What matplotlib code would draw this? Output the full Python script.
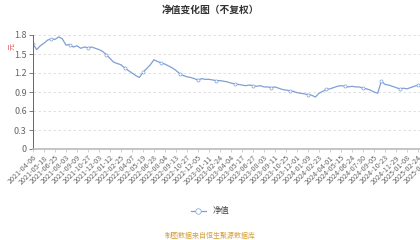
import numpy as np
import matplotlib
matplotlib.use('Agg')
import matplotlib.pyplot as plt

plt.rcParams['font.family'] = ['Noto Sans CJK SC', 'DejaVu Sans']

# tick labels along the category axis (one every 3 points)
date_labels = ['2021-04-06', '2021-05-18', '2021-06-25', '2021-08-03', '2021-09-09',
               '2021-10-27', '2021-12-03', '2022-01-12', '2022-02-25', '2022-04-07',
               '2022-05-19', '2022-06-28', '2022-08-04', '2022-09-13', '2022-10-27',
               '2022-12-05', '2023-01-11', '2023-02-24', '2023-04-04', '2023-05-17',
               '2023-06-27', '2023-08-03', '2023-09-11', '2023-10-25', '2023-12-01',
               '2024-01-09', '2024-02-23', '2024-04-01', '2024-05-15', '2024-06-24',
               '2024-07-30', '2024-09-05', '2024-10-23', '2024-11-29', '2025-01-08',
               '2025-02-24', '2025-04-03']

# net value
nav = [1.66, 1.57, 1.63, 1.67, 1.72, 1.74, 1.73, 1.77, 1.74, 1.64,
       1.65, 1.61, 1.63, 1.59, 1.61, 1.60, 1.61, 1.59, 1.57, 1.54,
       1.49, 1.43, 1.37, 1.35, 1.33, 1.28, 1.24, 1.20, 1.16, 1.13,
       1.21, 1.27, 1.33, 1.41, 1.38, 1.36, 1.34, 1.31, 1.28, 1.24,
       1.19, 1.16, 1.14, 1.13, 1.11, 1.09, 1.11, 1.10, 1.10, 1.09,
       1.08, 1.08, 1.07, 1.06, 1.04, 1.03, 1.02, 1.01, 1.00, 1.01,
       1.00, 0.99, 1.00, 0.98, 0.98, 0.97, 0.98, 0.96, 0.94, 0.93,
       0.92, 0.91, 0.89, 0.88, 0.87, 0.86, 0.85, 0.82, 0.88, 0.91,
       0.94, 0.95, 0.97, 0.99, 1.00, 0.99, 0.98, 0.99, 0.98, 0.98,
       0.96, 0.95, 0.93, 0.90, 0.88, 1.07, 1.02, 1.01, 0.99, 0.97,
       0.95, 0.96, 0.95, 0.97, 0.99, 1.01, 1.00, 1.01]

yticks = [0, 0.3, 0.6, 0.9, 1.2, 1.5, 1.8]
ytick_labels = ['0', '0.3', '0.6', '0.9', '1.2', '1.5', '1.8']

line_color = '#7f9fd5'
grey = '#666666'

fig = plt.figure(figsize=(4.2, 2.4), dpi=100)
# axes runs past the right edge of the picture, like the cropped original
ax = fig.add_axes([33 / 420, 1 - 149 / 240, 400 / 420, 114 / 240])

x = np.arange(len(nav)) / 3.0
ax.plot(x, nav, color=line_color, lw=0.9, marker='o', markersize=2.2,
        markerfacecolor='white', markeredgewidth=0.5, markevery=5, label='净值')

ax.set_ylim(0, 1.8)
ax.set_xlim(0, 400 / 11)
ax.set_yticks(yticks)
ax.set_yticklabels(ytick_labels, fontsize=6.5, color=grey)
ax.set_xticks(range(len(date_labels)))
ax.set_xticklabels(date_labels, rotation=45, ha='right', rotation_mode='anchor',
                   fontsize=5.2, color=grey)
ax.tick_params(axis='y', length=3, width=0.6, color=grey, pad=1.5)
ax.tick_params(axis='x', length=2, width=0.5, color='#bbbbbb', pad=1.5)

ax.grid(axis='y', color='#d9d9d9', linestyle=(0, (3, 3)), linewidth=0.6)
ax.set_axisbelow(True)
for s in ['top', 'right']:
    ax.spines[s].set_visible(False)
ax.spines['left'].set_color(grey)
ax.spines['left'].set_linewidth(0.7)
ax.spines['bottom'].set_color('#bbbbbb')
ax.spines['bottom'].set_linewidth(1.2)

fig.text(0.5, 1 - 10 / 240, '净值变化图（不复权）', ha='center', va='center',
         fontsize=7, fontweight='bold', color='#333333')
fig.text(13 / 420, 1 - 47 / 240, '元', ha='center', va='center', rotation=90,
         fontsize=5, color='#e06060')

leg = fig.legend(loc='center', bbox_to_anchor=(0.5, 1 - 211 / 240), frameon=False,
                 fontsize=6, handlelength=1.8, markerscale=1.8)
for t in leg.get_texts():
    t.set_color('#444444')

fig.text(0.5, 1 - 236 / 240, '制图数据来自恒生聚源数据库', ha='center', va='center',
         fontsize=5, color='#d4a040')

fig.savefig('out.png', dpi=100)
